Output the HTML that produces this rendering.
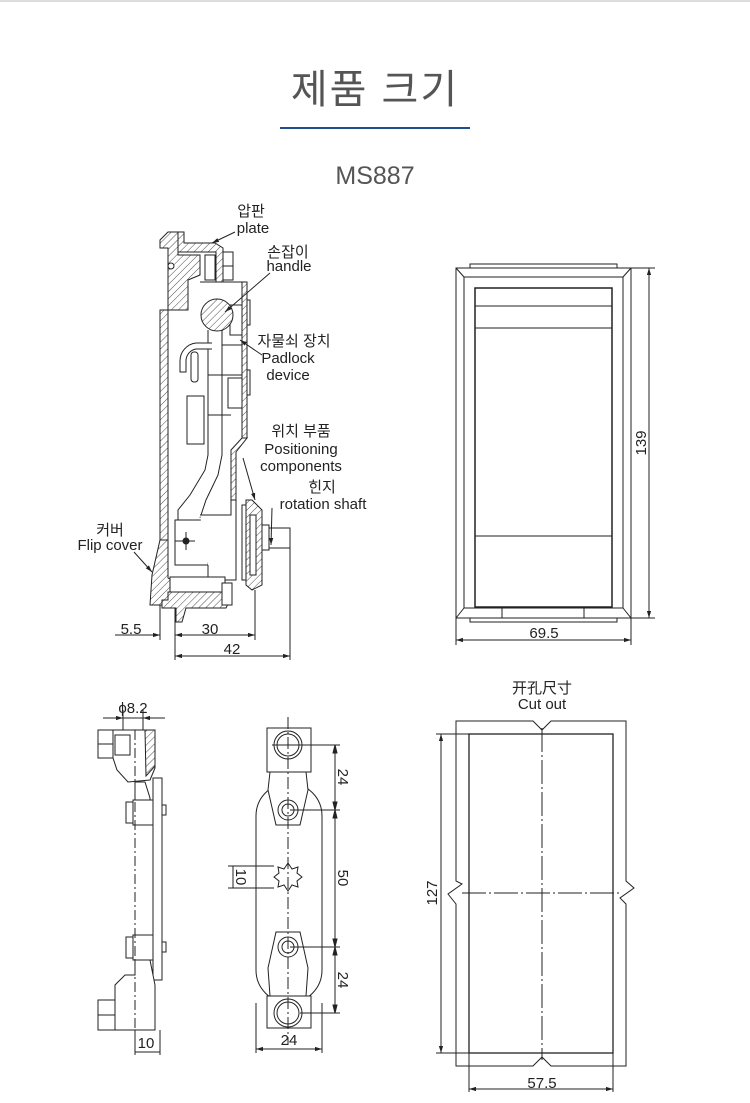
<!DOCTYPE html>
<html><head><meta charset="utf-8"><style>
html,body{margin:0;padding:0;background:#fff;}
body{width:750px;height:1103px;position:relative;overflow:hidden;font-family:"Liberation Sans","Noto Sans CJK KR",sans-serif;}
svg{position:absolute;left:0;top:0;}
text{font-family:"Liberation Sans","Noto Sans CJK KR",sans-serif;}
</style></head><body>
<svg width="750" height="1103" viewBox="0 0 750 1103" xmlns="http://www.w3.org/2000/svg">
<defs>
<pattern id="h" patternUnits="userSpaceOnUse" width="5" height="5" patternTransform="rotate(45)">
<rect width="5" height="5" fill="#fff"/><line x1="0" y1="0" x2="0" y2="5" stroke="#222" stroke-width="0.8"/>
</pattern>
<marker id="a" viewBox="0 0 10 10" refX="10" refY="5" markerWidth="7" markerHeight="7" orient="auto-start-reverse"><path d="M0,2 L10,5 L0,8 z" fill="#222"/></marker>
</defs>
<rect x="0" y="0" width="750" height="2" fill="#ddd"/>
<text x="375" y="103" font-size="40" fill="#555" text-anchor="middle" letter-spacing="2">제품 크기</text>
<rect x="280" y="127" width="190" height="2" fill="#1d4f91"/>
<text x="375" y="184" font-size="25" fill="#555" text-anchor="middle">MS887</text>

<g stroke="#222" stroke-width="1" fill="none">
<path d="M160,248 L160,240 L168,232 L178,232 L178,255 L200,255 L200,275 L188,280 L188,310 L168,310 L168,248 Z" fill="url(#h)"/>
<circle cx="171" cy="266" r="3" fill="#fff"/>
<path d="M178,232 L184,232 L184,243 L215,243 L223,248 L223,282 L216,282 L216,252 L184,252 L178,252 Z" fill="url(#h)"/>
<rect x="160" y="310" width="8" height="230" fill="url(#h)"/>
<rect x="205" y="255" width="10" height="25" fill="#fff"/>
<rect x="223" y="252" width="10" height="28" fill="#fff"/>
<line x1="223" y1="266" x2="233" y2="266"/>
<line x1="200" y1="282" x2="247" y2="282"/>
<rect x="242" y="282" width="5" height="156" fill="url(#h)"/>
<rect x="247" y="300" width="3" height="25"/><rect x="247" y="370" width="3" height="25"/>
<rect x="230" y="305" width="12" height="30"/><rect x="228" y="378" width="14" height="30"/>
<path d="M242,438 L247,438 L236,452 L236,500 L231,500 L231,450 Z" fill="url(#h)"/>
<circle cx="217" cy="315" r="16" fill="url(#h)"/>
<path d="M208,330 L208,455 L205,470 L190,495 L178,510 L178,540 M222,330 L222,455 L218,475 L206,500 L200,518"/>
<path d="M212,343 L196,343 A18,18 0 0 0 180,361 L180,372 L186,372 L186,361 A12,12 0 0 1 196,349 L212,349" fill="#fff"/>
<rect x="191" y="352" width="7" height="30" rx="3" fill="#fff"/>
<rect x="187" y="396" width="17" height="48" fill="#fff"/>
<line x1="208" y1="375" x2="242" y2="375"/><line x1="222" y1="345" x2="242" y2="345"/>
<line x1="208" y1="415" x2="231" y2="415"/>
<rect x="175" y="520" width="33" height="45" fill="#fff"/>
<line x1="175" y1="541" x2="195" y2="541"/><line x1="186" y1="532" x2="186" y2="550"/>
<circle cx="186" cy="541" r="3" fill="#222"/>
<path d="M200,515 L231,515 L231,500 L236,500 L236,580 L208,580 L208,565" fill="#fff"/>
<path d="M160,540 L168,540 L168,578 L175,582 L175,605 L150,605 L152,575 Z" fill="url(#h)"/>
<rect x="170" y="577" width="55" height="15" fill="#fff"/>
<path d="M168,592 L226,592 L230,600 L226,608 L186,608 L182,622 L176,622 L176,608 L162,608 L162,600 L168,600 Z" fill="url(#h)"/>
<rect x="222" y="583" width="10" height="22" fill="#fff"/>
<rect x="242" y="505" width="6" height="75" fill="#fff"/>
<path d="M246,500 L252,500 L262,510 L262,585 L252,590 L246,585 Z" fill="url(#h)"/>
<rect x="250" y="515" width="6" height="60" fill="#fff"/>
<rect x="262" y="525" width="7" height="25" fill="#fff"/>
<rect x="269" y="528" width="21" height="20" fill="#fff"/>
<line x1="160" y1="605" x2="160" y2="640"/><line x1="175" y1="608" x2="175" y2="660"/>
<line x1="255" y1="590" x2="255" y2="640"/><line x1="290" y1="548" x2="290" y2="660"/>
<line x1="115" y1="635" x2="160" y2="635" marker-end="url(#a)"/>
<line x1="175" y1="635" x2="255" y2="635" marker-start="url(#a)" marker-end="url(#a)"/>
<line x1="175" y1="656" x2="290" y2="656" marker-start="url(#a)" marker-end="url(#a)"/>
<line x1="235" y1="232" x2="212" y2="243" marker-end="url(#a)"/>
<line x1="270" y1="273" x2="225" y2="312" marker-end="url(#a)"/>
<line x1="262" y1="355" x2="240" y2="340" marker-end="url(#a)"/>
<line x1="243" y1="458" x2="255" y2="500" marker-end="url(#a)"/>
<line x1="272" y1="508" x2="271" y2="545" marker-end="url(#a)"/>
<line x1="134" y1="552" x2="152" y2="572" marker-end="url(#a)"/>

<rect x="456" y="268" width="175" height="350"/>
<rect x="464" y="277" width="159" height="331"/>
<line x1="456" y1="268" x2="464" y2="277"/><line x1="631" y1="268" x2="623" y2="277"/>
<line x1="456" y1="618" x2="464" y2="608"/><line x1="631" y1="618" x2="623" y2="608"/>
<path d="M470,268 L470,264 L617,264 L617,268 M470,618 L470,622 L617,622 L617,618"/>
<rect x="475" y="288" width="137" height="319" stroke-width="1.5"/>
<line x1="475" y1="306" x2="612" y2="306"/><line x1="475" y1="328" x2="612" y2="328"/><line x1="475" y1="536" x2="612" y2="536"/>
<rect x="502" y="608" width="82" height="10"/>
<line x1="631" y1="268" x2="655" y2="268"/><line x1="631" y1="618" x2="655" y2="618"/>
<line x1="649" y1="268" x2="649" y2="618" marker-start="url(#a)" marker-end="url(#a)"/>
<line x1="456" y1="618" x2="456" y2="645"/><line x1="631" y1="618" x2="631" y2="645"/>
<line x1="456" y1="640" x2="631" y2="640" marker-start="url(#a)" marker-end="url(#a)"/>

<path d="M456,721 L533,721 L542,730 L551,721 L626,721 L626,881 L634,888 L620,898 L626,904 L626,1066 L551,1066 L542,1057 L533,1066 L456,1066 L456,904 L448,894 L462,884 L456,881 Z"/>
<rect x="469" y="734" width="144" height="319" stroke-width="1.3"/>
<line x1="542" y1="728" x2="542" y2="1060" stroke-dasharray="24,3,2,3"/>
<line x1="462" y1="893" x2="620" y2="893" stroke-dasharray="24,3,2,3"/>
<line x1="436" y1="734" x2="469" y2="734"/><line x1="436" y1="1053" x2="469" y2="1053"/>
<line x1="441" y1="734" x2="441" y2="1053" marker-start="url(#a)" marker-end="url(#a)"/>
<line x1="469" y1="1053" x2="469" y2="1092"/><line x1="613" y1="1053" x2="613" y2="1092"/>
<line x1="469" y1="1089" x2="613" y2="1089" marker-start="url(#a)" marker-end="url(#a)"/>

<line x1="103" y1="718" x2="123" y2="718" marker-end="url(#a)"/><line x1="123" y1="718" x2="165" y2="718"/>
<line x1="143" y1="718" x2="165" y2="718" marker-start="url(#a)"/>
<line x1="123" y1="710" x2="123" y2="758"/><line x1="143" y1="710" x2="143" y2="732"/>
<rect x="98" y="730" width="17" height="28" fill="#fff"/><line x1="98" y1="744" x2="115" y2="744"/>
<path d="M113,730 L155,730 L155,768 L150,780 L128,782 L117,770 L113,758 Z" fill="#fff"/>
<path d="M145,730 L155,730 L155,766 L146,776 Z" fill="url(#h)"/>
<rect x="115" y="735" width="15" height="20" fill="#fff"/>
<rect x="153" y="778" width="9" height="202" fill="#fff"/>
<path d="M135,782 L145,782 L150,798 L150,825 L135,825 Z" fill="#fff"/>
<rect x="133" y="800" width="20" height="25" fill="#fff"/><rect x="126" y="802" width="7" height="21" fill="#fff"/>
<rect x="162" y="805" width="4" height="10"/>
<rect x="133" y="935" width="20" height="25" fill="#fff"/><rect x="126" y="937" width="7" height="21" fill="#fff"/>
<rect x="162" y="942" width="4" height="10"/>
<path d="M135,960 L150,960 L155,985 L155,1030 L115,1030 L115,985 L125,975 L135,975 Z" fill="#fff"/>
<rect x="98" y="1000" width="17" height="30" fill="#fff"/><line x1="98" y1="1015" x2="115" y2="1015"/>
<line x1="135" y1="730" x2="135" y2="1030" stroke-dasharray="10,3,2,3"/>
<line x1="135" y1="1030" x2="135" y2="1055"/><line x1="160" y1="1030" x2="160" y2="1055"/>
<line x1="135" y1="1052" x2="160" y2="1052"/>

<rect x="256" y="783" width="66" height="220" rx="33" fill="#fff"/>
<rect x="267" y="728" width="44" height="44" fill="#fff"/>
<rect x="267" y="996" width="44" height="32" fill="#fff"/>
<path d="M270,772 L306,772 L308,790 L300,825 L276,825 L268,790 Z" fill="#fff"/>
<path d="M276,932 L300,932 L308,968 L306,996 L270,996 L268,968 Z" fill="#fff"/>
<circle cx="288" cy="745" r="14" fill="#fff"/><circle cx="288" cy="745" r="11"/>
<circle cx="288" cy="1013" r="14" fill="#fff"/><circle cx="288" cy="1013" r="11"/>
<circle cx="288" cy="810" r="10"/><circle cx="288" cy="810" r="6"/>
<circle cx="288" cy="947" r="10"/><circle cx="288" cy="947" r="6"/>
<path d="M288,863 L292,869 L298,867 L297,873 L302,877 L297,881 L298,887 L292,885 L288,891 L284,885 L278,887 L279,881 L274,877 L279,873 L278,867 L284,869 Z" fill="#fff"/>
<line x1="288" y1="717" x2="288" y2="1045" stroke-dasharray="12,3,2,3"/>
<line x1="272" y1="745" x2="340" y2="745"/><line x1="290" y1="810" x2="340" y2="810"/>
<line x1="290" y1="947" x2="340" y2="947"/><line x1="300" y1="1013" x2="340" y2="1013"/>
<line x1="335" y1="745" x2="335" y2="1013"/>
<path d="M335,745 l-2,8 l4,0 z M335,810 l-2,-8 l4,0 z M335,810 l-2,8 l4,0 z M335,947 l-2,-8 l4,0 z M335,947 l-2,8 l4,0 z M335,1013 l-2,-8 l4,0 z" fill="#222"/>
<line x1="228" y1="866" x2="274" y2="866"/><line x1="228" y1="888" x2="274" y2="888"/>
<line x1="233" y1="866" x2="233" y2="888"/>
<line x1="256" y1="1003" x2="256" y2="1053"/><line x1="322" y1="1003" x2="322" y2="1053"/>
<line x1="256" y1="1049" x2="322" y2="1049" marker-start="url(#a)" marker-end="url(#a)"/>
</g>

<g fill="#222" font-size="15">
<text x="251" y="216" text-anchor="middle">압판</text>
<text x="253" y="233" text-anchor="middle">plate</text>
<text x="288" y="257" text-anchor="middle">손잡이</text>
<text x="289" y="271" text-anchor="middle">handle</text>
<text x="294" y="346" text-anchor="middle">자물쇠 장치</text>
<text x="288" y="363" text-anchor="middle">Padlock</text>
<text x="288" y="380" text-anchor="middle">device</text>
<text x="301" y="436" text-anchor="middle">위치 부품</text>
<text x="301" y="454" text-anchor="middle">Positioning</text>
<text x="301" y="471" text-anchor="middle">components</text>
<text x="322" y="492" text-anchor="middle">힌지</text>
<text x="323" y="509" text-anchor="middle">rotation shaft</text>
<text x="110" y="535" text-anchor="middle">커버</text>
<text x="110" y="550" text-anchor="middle">Flip cover</text>
<text x="131" y="634" text-anchor="middle">5.5</text>
<text x="210" y="634" text-anchor="middle">30</text>
<text x="232" y="654" text-anchor="middle">42</text>
<text x="544" y="638" text-anchor="middle">69.5</text>
<text transform="translate(646,443) rotate(-90)" text-anchor="middle">139</text>
<text x="542" y="693" text-anchor="middle">开孔尺寸</text>
<text x="542" y="709" text-anchor="middle">Cut out</text>
<text transform="translate(437,893) rotate(-90)" text-anchor="middle">127</text>
<text x="542" y="1088" text-anchor="middle">57.5</text>
<text x="133" y="713" text-anchor="middle">ϕ8.2</text>
<text x="146" y="1048" text-anchor="middle">10</text>
<text x="289" y="1045" text-anchor="middle">24</text>
<text transform="translate(338,777) rotate(90)" text-anchor="middle">24</text>
<text transform="translate(338,878) rotate(90)" text-anchor="middle">50</text>
<text transform="translate(338,980) rotate(90)" text-anchor="middle">24</text>
<text transform="translate(236,877) rotate(90)" text-anchor="middle">10</text>
</g>
</svg>
</body></html>
